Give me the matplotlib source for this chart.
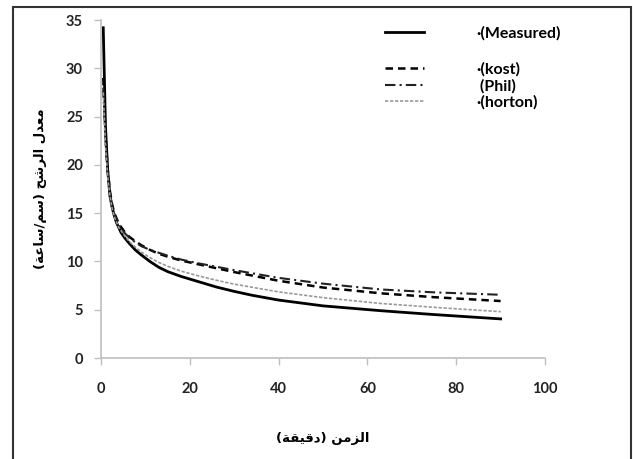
#!/usr/bin/env python3

import numpy as np
import matplotlib
matplotlib.use("Agg")
import matplotlib.pyplot as plt
from matplotlib.patches import Rectangle

# infiltration rate (cm/h) against time (min)
t_meas = [0.5, 1, 1.5, 2, 2.5, 3, 3.5, 4, 4.5, 5.4, 6.5, 7.7, 9, 11, 13, 15, 18, 22, 26, 30, 34, 40, 50, 63, 75, 90]
f_meas = [34.2, 24.0, 19.5, 16.8, 15.6, 14.7, 14.0, 13.5, 13.0, 12.4, 11.8, 11.2, 10.7, 10.0, 9.4, 8.95, 8.45, 7.9, 7.35, 6.9, 6.5, 6.0, 5.4, 4.9, 4.5, 4.05]

t_mod = [0.5, 1, 1.5, 2, 2.5, 3, 4, 5.4, 6.5, 7.7, 9, 11, 13, 15, 18, 22, 26, 30, 40, 50, 63, 75, 90]
f_kost = [29.0, 23.0, 19.5, 17.3, 15.9, 15.0, 13.9, 13.0, 12.5, 12.1, 11.7, 11.2, 10.8, 10.5, 10.1, 9.7, 9.3, 8.9, 8.0, 7.3, 6.7, 6.3, 5.9]
f_phil = [28.0, 22.5, 19.2, 17.1, 15.8, 14.9, 13.8, 12.9, 12.4, 12.0, 11.6, 11.2, 10.9, 10.6, 10.2, 9.8, 9.45, 9.1, 8.3, 7.7, 7.1, 6.8, 6.55]
f_horton = [27.5, 22.0, 18.8, 16.8, 15.5, 14.6, 13.5, 12.6, 12.0, 11.5, 11.0, 10.4, 9.9, 9.5, 9.0, 8.5, 8.05, 7.65, 6.85, 6.25, 5.65, 5.25, 4.8]

xticks = np.arange(0, 101, 20)
yticks = np.arange(0, 36, 5)

# Arabic labels written in visual order with presentation forms
xlab = "(\ufe94\ufed8\ufef4\ufed7\ufea9) \ufee6\ufee3\ufeb0\ufedf\ufe8d"
ylab = "(\ufe94\ufecb\ufe8e\ufeb3/\ufee2\ufeb3) \ufea2\ufeb7\ufeae\ufedf\ufe8d \ufedd\ufeaa\ufecc\ufee3"

plt.rcParams['font.family'] = ['Lato', 'DejaVu Sans']
plt.rcParams['font.weight'] = 'bold'

fig = plt.figure(figsize=(6.33, 4.59), dpi=100)
ax = fig.add_axes([0.1596, 0.22, 0.7014, 0.7364])

l1, = ax.plot(t_meas, f_meas, color="black", lw=2.0)
l2, = ax.plot(t_mod, f_kost, color="black", lw=1.8, ls=(0, (3, 2)))
l3, = ax.plot(t_mod, f_phil, color="#222222", lw=1.5, ls=(0, (5, 2, 1, 2)))
l4, = ax.plot(t_mod, f_horton, color="#999999", lw=1.2, ls=(0, (2, 1)))

ax.set_xlim(0, 100)
ax.set_ylim(0, 35)
ax.set_xticks(xticks)
ax.set_yticks(yticks)

for side in ["top", "right"]:
    ax.spines[side].set_visible(False)
for side in ["left", "bottom"]:
    ax.spines[side].set_color("#bfbfbf")
    ax.spines[side].set_linewidth(1.2)
ax.tick_params(direction="out", length=5, width=1.0, color="#bfbfbf",
               labelsize=10.5, labelcolor="#222222")
ax.tick_params(axis="x", pad=12)
ax.tick_params(axis="y", pad=8)

ax.set_xlabel(xlab, family=["DejaVu Sans"], fontsize=9.5, fontweight="bold", labelpad=26)
ax.set_ylabel(ylab, family=["DejaVu Sans"], fontsize=9.5, fontweight="bold", labelpad=14)

leg1 = ax.legend([l1], ["\u00b7(Measured)"], loc="center left",
                 bbox_to_anchor=(0.608, 0.9615), frameon=False, fontsize=11.5,
                 handlelength=2.4, handletextpad=3.3)
ax.add_artist(leg1)
ax.legend([l2, l3, l4], ["\u00b7(kost)", " (Phil)", "\u00b7(horton)"], loc="center left",
          bbox_to_anchor=(0.608, 0.805), frameon=False, fontsize=11.5,
          handlelength=2.4, handletextpad=3.3, labelspacing=0.12)

# outer frame
fig.add_artist(Rectangle((0.0205, -0.1), 0.9763, 1.0847, transform=fig.transFigure,
                         fill=False, edgecolor="#333333", lw=1.5))

plt.savefig("out.png", dpi=100)
plt.close()
